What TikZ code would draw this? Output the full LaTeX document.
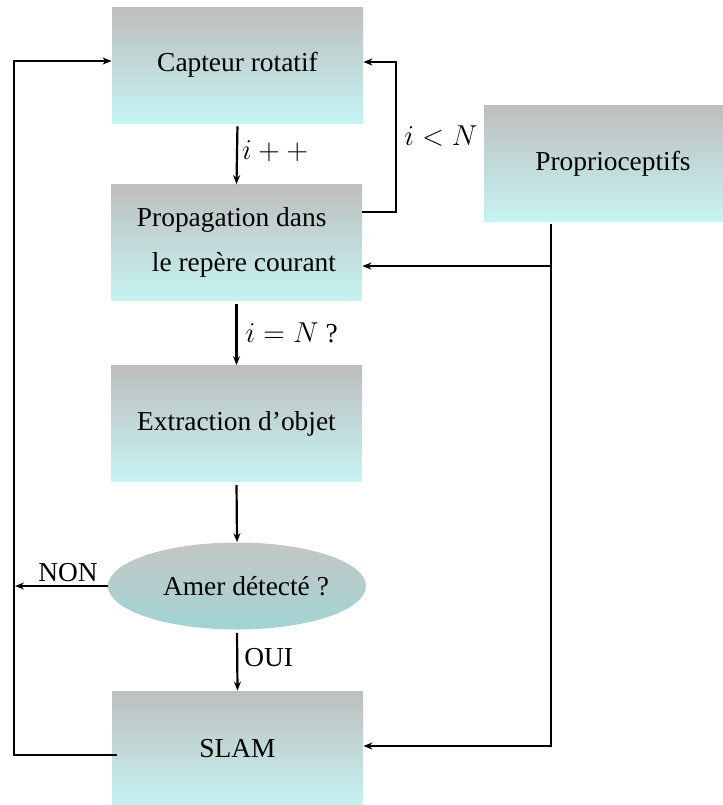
\documentclass[tikz,border=0pt]{standalone}
\usepackage{fontspec}
\setmainfont{Liberation Serif}
\usetikzlibrary{shapes.geometric,arrows.meta}
\definecolor{boxtop}{RGB}{190,190,190}
\definecolor{boxbot}{RGB}{198,243,243}
\definecolor{elltop}{RGB}{196,198,198}
\definecolor{ellbot}{RGB}{162,212,212}
\tikzset{
  stepbox/.style={rectangle, minimum width=125.5pt, minimum height=58pt, top color=boxtop, bottom color=boxbot, draw=none, inner sep=0pt, font=\fontsize{13.7pt}{16pt}\selectfont},
  decision/.style={ellipse, minimum width=129pt, minimum height=43.5pt, top color=elltop, bottom color=ellbot, draw=none, inner sep=0pt, font=\fontsize{13.7pt}{16pt}\selectfont},
  conn/.style={line width=1.1pt},
  arr/.style={line width=1.1pt, -{Stealth[length=4.5pt,width=3.5pt]}},
  lab/.style={font=\fontsize{13.7pt}{16pt}\selectfont, inner sep=1pt}
}
\begin{document}
\begin{tikzpicture}[x=0.5pt,y=-0.5pt]
\useasboundingbox (0,0) rectangle (723,805);
\node[stepbox] (cap) at (237.5,65) {Capteur rotatif};
\node[stepbox, align=left] (prop) at (236.5,242.5) {Propagation dans\\[6.5pt]\hspace*{7.5pt}le repère courant};
\node[stepbox] (ext) at (236.5,423.5) {Extraction d'objet};
\node[decision] (ell) at (237,586) {\makebox[0pt][c]{\hspace*{9pt}Amer détecté ?}};
\node[stepbox] (slam) at (237.5,749) {SLAM};
\node[stepbox, minimum width=129pt] (pro) at (613,163.5) {Proprioceptifs};

\coordinate (rl1) at (396,212);
\coordinate (rl2) at (396,62);
\coordinate (j1) at (551,266);
\coordinate (ll1) at (14,755);
\coordinate (ll2) at (14,61);
\coordinate (nonend) at (15,0);

\draw[arr, shorten <=1.5pt] (cap.south) -- node[right, lab, pos=0.45, xshift=1pt]{$i++$} (prop.north);
\draw[arr] (prop.east |- rl1) -- (rl1) -- (rl2) -- (cap.east |- rl2);
\node[lab] (ilt) at (441,136) {$i<N$};

\draw[conn, shorten <=1pt] (pro.south -| j1) -- (j1);
\draw[arr] (j1) -- (prop.east |- j1);
\draw[arr] (j1) -- (j1 |- 0,746) -- (slam.east |- 0,746);

\draw[arr, shorten <=1.5pt] (prop.south) -- node[right, lab, pos=0.5, xshift=3pt]{$i=N$ ?} (ext.north);
\draw[arr, shorten <=1.5pt] (ext.south) -- (ell.north);
\draw[arr, shorten <=1.5pt] (ell.south) -- node[right, lab, pos=0.45, xshift=2pt]{OUI} (slam.north);
\draw[arr] (ell.west) -- (nonend |- ell.west);
\node[lab] (non) at (68,573) {NON};
\draw[arr] ([xshift=2.5pt]slam.west |- ll1) -- (ll1) -- (ll2) -- (cap.west |- ll2);
\end{tikzpicture}
\end{document}
